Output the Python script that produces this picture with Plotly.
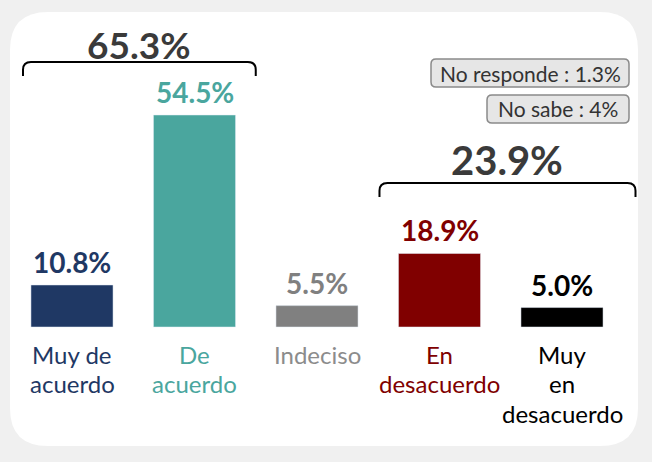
import plotly.graph_objects as go

categories = ["Muy de<br>acuerdo", "De<br>acuerdo", "Indeciso", "En<br>desacuerdo", "Muy<br>en<br>desacuerdo"]
values = [10.8, 54.5, 5.5, 18.9, 5.0]
value_labels = ["10.8%", "54.5%", "5.5%", "18.9%", "5.0%"]
bar_colors = ["#1f3864", "#4aa69e", "#808080", "#800000", "#000000"]
label_colors = ["#1f3864", "#4aa69e", "#8c8c8c", "#800000", "#000000"]

group_labels = ["65.3%", "23.9%"]
other_labels = ["No responde : 1.3%", "No sabe : 4%"]

W, H = 652, 462
x_idx = list(range(len(categories)))

fig = go.Figure(go.Bar(x=x_idx, y=values, marker_color=bar_colors, width=0.67,
                       hoverinfo="skip"))


def px(x):
    return x / W


def py(y):
    return 1 - y / H


def rounded_box(L, T, R, B, r):
    return (f"M {px(L+r)},{py(T)} L {px(R-r)},{py(T)} Q {px(R)},{py(T)} {px(R)},{py(T+r)} "
            f"L {px(R)},{py(B-r)} Q {px(R)},{py(B)} {px(R-r)},{py(B)} "
            f"L {px(L+r)},{py(B)} Q {px(L)},{py(B)} {px(L)},{py(B-r)} "
            f"L {px(L)},{py(T+r)} Q {px(L)},{py(T)} {px(L+r)},{py(T)} Z")


# white rounded panel
fig.add_shape(type="path", path=rounded_box(10, 12, 638, 446, 38), xref="paper", yref="paper",
              fillcolor="white", line_width=0, layer="below")

annotations = []
for i in x_idx:
    annotations.append(dict(x=i, y=values[i], text=value_labels[i], showarrow=False,
                            yanchor="bottom", yshift=4,
                            font=dict(family="Lato", size=28, color=bar_colors[i], weight="bold")))
    # one annotation per line to get the tighter line spacing
    for k, line in enumerate(categories[i].split("<br>")):
        annotations.append(dict(x=i, y=0, text=line, showarrow=False,
                                yanchor="middle", yshift=-(27 + 29.5 * k),
                                font=dict(family="Lato", size=24, color=label_colors[i])))

# brackets over groups
brackets = [(-0.40, 1.50, 68.1, 64.5, 18, 37), (2.51, 4.60, 37.0, 33.4, 23, 40)]
rx, ry = 0.065, 2.0
for (x0, x1, yh, ye, lift, fs), txt in zip(brackets, group_labels):
    path = (f"M {x0},{ye} L {x0},{yh-ry} Q {x0},{yh} {x0+rx},{yh} "
            f"L {x1-rx},{yh} Q {x1},{yh} {x1},{yh-ry} L {x1},{ye}")
    fig.add_shape(type="path", path=path, xref="x", yref="y",
                  line=dict(color="black", width=2))
    annotations.append(dict(x=(x0 + x1) / 2, y=yh, text=txt, showarrow=False,
                            yanchor="middle", yshift=lift,
                            font=dict(family="Lato", size=fs, color="#3a3a3a", weight="bold")))

# "no responde" / "no sabe" tags
boxes = [(431, 59, 629, 87), (487, 95, 629, 123)]
for txt, (bl, bt, br, bb) in zip(other_labels, boxes):
    fig.add_shape(type="path", path=rounded_box(bl, bt, br, bb, 5), xref="paper", yref="paper",
                  fillcolor="#e6e6e6", line=dict(color="#8a8a8a", width=1.5))
    annotations.append(dict(x=px((bl + br) / 2), y=py((bt + bb) / 2), xref="paper", yref="paper",
                            text=txt, showarrow=False, xanchor="center", yanchor="middle",
                            font=dict(family="Lato", size=21, color="#333333")))

fig.update_layout(
    width=W, height=H,
    margin=dict(l=0, r=0, t=0, b=0),
    paper_bgcolor="#f0f0f0", plot_bgcolor="rgba(0,0,0,0)",
    showlegend=False,
    annotations=annotations,
    xaxis=dict(range=[-72 / 122.5, (W - 72) / 122.5], visible=False),
    yaxis=dict(range=[-(H - 327) / 3.89, 327 / 3.89], visible=False),
)

fig.write_html("out.html", config={"displayModeBar": False},
               post_script="document.body.style.margin='0';")
